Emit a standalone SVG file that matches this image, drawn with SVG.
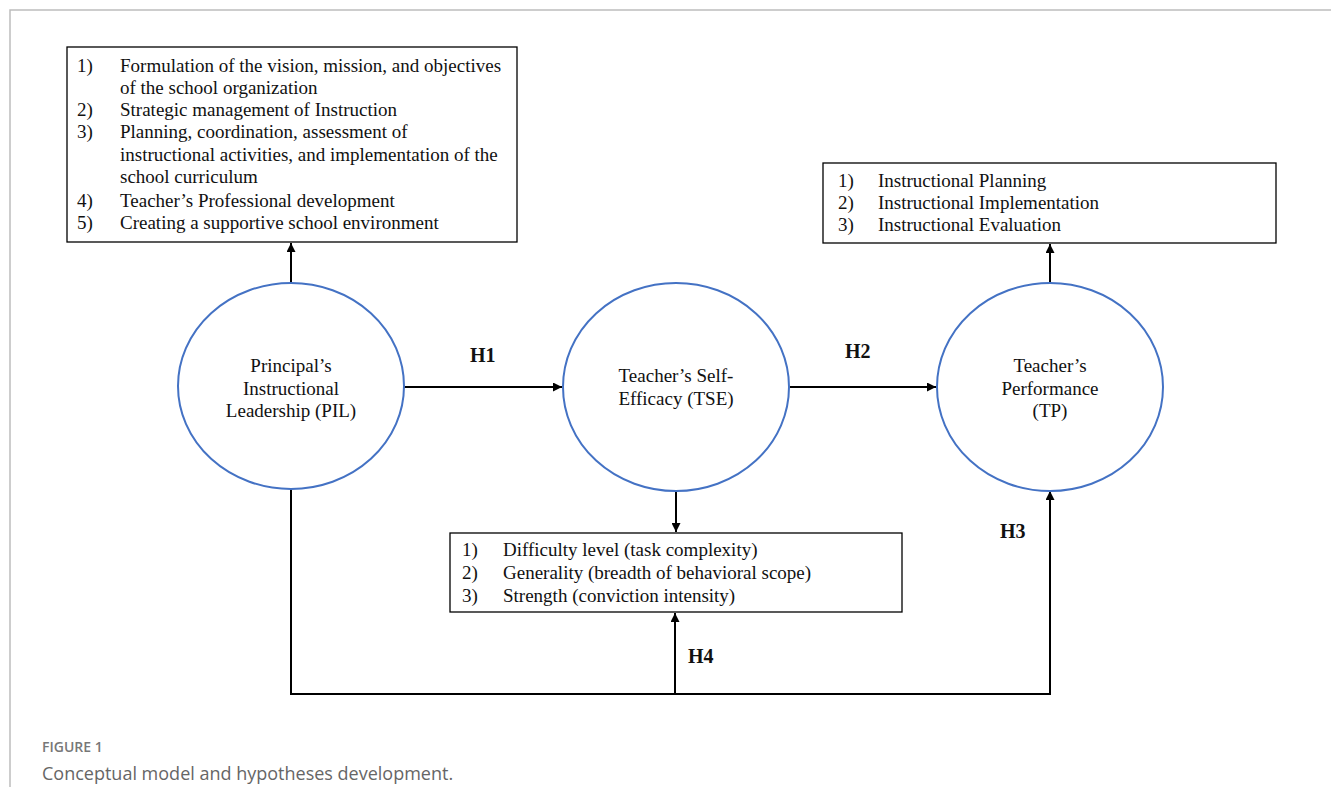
<svg xmlns="http://www.w3.org/2000/svg" width="1331" height="787" viewBox="0 0 1331 787">
<defs>
<marker id="ah" viewBox="0 0 10 10" refX="10" refY="5" markerWidth="9" markerHeight="9" markerUnits="userSpaceOnUse" orient="auto">
<path d="M0,0 L10,5 L0,10 z" fill="#000"/>
</marker>
</defs>
<style>
.frame{stroke:#bdbdbd;stroke-width:1.5;fill:none}
.box{fill:#fff;stroke:#000;stroke-width:1.3}
.circ{fill:#fff;stroke:#4472c4;stroke-width:2}
.t{font-family:"Liberation Serif","Times New Roman",serif;font-size:19px;fill:#111}
.c{font-family:"Liberation Serif","Times New Roman",serif;font-size:19px;fill:#111;text-anchor:middle}
.h{font-family:"Liberation Serif","Times New Roman",serif;font-size:20px;font-weight:bold;fill:#111}
.ln{stroke:#000;stroke-width:2;fill:none}
.cap1{font-family:"Open Sans","Liberation Sans",sans-serif;font-size:14px;font-weight:600;fill:#777}
.cap2{font-family:"Open Sans","Liberation Sans",sans-serif;font-size:18px;fill:#666}
</style>
<rect width="1331" height="787" fill="#fff"/>
<path class="frame" d="M10,787 L10,10 L1331,10"/>

<g id="connectors">
<line class="ln" x1="291" y1="283" x2="291" y2="243" marker-end="url(#ah)"/>
<line class="ln" x1="1050" y1="284" x2="1050" y2="244" marker-end="url(#ah)"/>
<line class="ln" x1="404" y1="387" x2="562" y2="387" marker-end="url(#ah)"/>
<line class="ln" x1="790" y1="387" x2="936" y2="387" marker-end="url(#ah)"/>
<line class="ln" x1="676" y1="491" x2="676" y2="532" marker-end="url(#ah)"/>
<path class="ln" d="M291,488 L291,694 L1050,694 L1050,491" marker-end="url(#ah)"/>
<line class="ln" x1="675" y1="694" x2="675" y2="613" marker-end="url(#ah)"/>
<text class="h" x="470" y="362">H1</text>
<text class="h" x="845" y="358">H2</text>
<text class="h" x="1000" y="538">H3</text>
<text class="h" x="688" y="663">H4</text>
</g>

<g id="pil-dims">
<rect class="box" x="67" y="47" width="450" height="195"/>
<text class="t" x="77" y="72">1)</text><text class="t" x="120" y="72">Formulation of the vision, mission, and objectives</text>
<text class="t" x="120" y="94">of the school organization</text>
<text class="t" x="77" y="116">2)</text><text class="t" x="120" y="116">Strategic management of Instruction</text>
<text class="t" x="77" y="138">3)</text><text class="t" x="120" y="138">Planning, coordination, assessment of</text>
<text class="t" x="120" y="161">instructional activities, and implementation of the</text>
<text class="t" x="120" y="183">school curriculum</text>
<text class="t" x="77" y="207">4)</text><text class="t" x="120" y="207">Teacher’s Professional development</text>
<text class="t" x="77" y="229">5)</text><text class="t" x="120" y="229">Creating a supportive school environment</text>
</g>

<g id="tp-dims">
<rect class="box" x="823" y="163" width="453" height="80"/>
<text class="t" x="838" y="187">1)</text><text class="t" x="878" y="187">Instructional Planning</text>
<text class="t" x="838" y="209">2)</text><text class="t" x="878" y="209">Instructional Implementation</text>
<text class="t" x="838" y="231">3)</text><text class="t" x="878" y="231">Instructional Evaluation</text>
</g>

<g id="tse-dims">
<rect class="box" x="450" y="533" width="452" height="79"/>
<text class="t" x="462" y="556">1)</text><text class="t" x="503" y="556">Difficulty level (task complexity)</text>
<text class="t" x="462" y="579">2)</text><text class="t" x="503" y="579">Generality (breadth of behavioral scope)</text>
<text class="t" x="462" y="602">3)</text><text class="t" x="503" y="602">Strength (conviction intensity)</text>
</g>

<g id="pil">
<ellipse class="circ" cx="291" cy="386" rx="113" ry="103"/>
<text class="c" x="291" y="372">Principal’s</text>
<text class="c" x="291" y="395">Instructional</text>
<text class="c" x="291" y="417">Leadership (PIL)</text>
</g>

<g id="tse">
<ellipse class="circ" cx="676" cy="387" rx="113" ry="104"/>
<text class="c" x="676" y="382">Teacher’s Self-</text>
<text class="c" x="676" y="405">Efficacy (TSE)</text>
</g>

<g id="tp">
<ellipse class="circ" cx="1050" cy="387" rx="113" ry="104"/>
<text class="c" x="1050" y="372">Teacher’s</text>
<text class="c" x="1050" y="395">Performance</text>
<text class="c" x="1050" y="417">(TP)</text>
</g>

<text class="cap1" x="42" y="752">FIGURE 1</text>
<text class="cap2" x="42" y="780">Conceptual model and hypotheses development.</text>
</svg>
